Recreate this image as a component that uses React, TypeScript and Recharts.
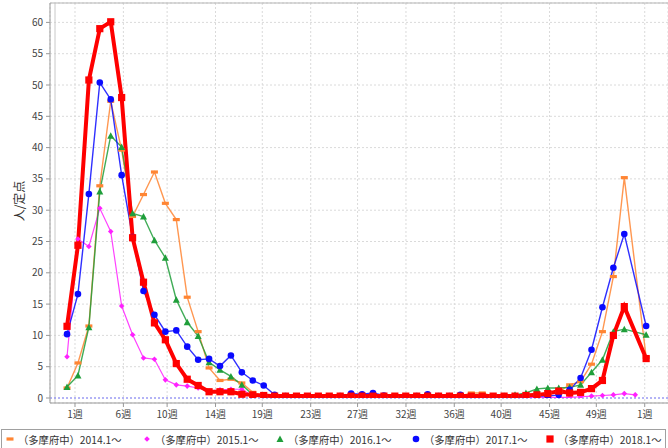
import React from 'react'
import { LineChart, Line, XAxis, YAxis, CartesianGrid, ReferenceLine } from 'recharts'

// week slots on the axis (53 only used by 2015, 54 = next year's week 1)
const weeks = [
  1, 2, 3, 4, 5, 6, 7, 8, 9, 10, 11, 12, 13, 14, 15, 16, 17, 18,
  19, 20, 21, 22, 23, 24, 25, 26, 27, 28, 29, 30, 31, 32, 33, 34, 35, 36,
  37, 38, 39, 40, 41, 42, 43, 44, 45, 46, 47, 48, 49, 50, 51, 52, 53, 54,
]

const s2014 = [
  1.6, 5.6, 11.5, 33.9, 47.4, 39.6, 29.0, 32.5, 36.1, 31.1, 28.5, 16.1, 10.6, 4.8, 2.8, 3.0, 2.4, 0.9,
  0.3, 0.2, 0.2, 0.1, 0.1, 0.1, 0.1, 0.1, 0.1, 0.2, 0.1, 0.1, 0.1, 0.1, 0.1, 0.1, 0.2, 0.3,
  0.3, 0.8, 0.8, 0.3, 0.2, 0.2, 0.3, 0.5, 0.8, 1.0, 2.1, 2.6, 5.4, 10.6, 19.4, 35.2, null, 6.5,
]
const s2015 = [
  6.6, 25.4, 24.2, 30.3, 26.6, 14.7, 10.1, 6.4, 6.2, 2.9, 2.1, 1.9, 1.6, 1.1, 1.3, 1.4, 1.4, 0.3,
  0.2, 0.1, 0.1, 0.1, 0.1, 0.1, 0.1, 0.1, 0.1, 0.1, 0.1, 0.1, 0.1, 0.1, 0.1, 0.1, 0.1, 0.1,
  0.1, 0.1, 0.1, 0.1, 0.1, 0.1, 0.1, 0.1, 0.1, 0.1, 0.1, 0.2, 0.3, 0.4, 0.5, 0.7, 0.5, null,
]
const s2016 = [
  1.75, 3.6, 11.3, 33.0, 41.9, 40.1, 29.5, 29.0, 25.2, 22.4, 15.7, 12.1, 9.9, 5.7, 4.5, 3.45, 2.1, 0.5,
  0.2, 0.2, 0.1, 0.1, 0.1, 0.1, 0.1, 0.1, 0.1, 0.1, 0.1, 0.1, 0.1, 0.1, 0.1, 0.1, 0.1, 0.1,
  0.1, 0.2, 0.2, 0.2, 0.3, 0.5, 0.8, 1.45, 1.6, 1.6, 1.7, 2.1, 4.1, 6.1, 10.6, 11.0, null, 10.1,
]
const s2017 = [
  10.2, 16.6, 32.6, 50.4, 47.7, 35.6, 25.7, 17.1, 13.3, 10.6, 10.8, 8.2, 6.1, 6.25, 5.1, 6.8, 4.1, 2.8,
  2.0, 0.5, 0.3, 0.2, 0.2, 0.2, 0.2, 0.3, 0.7, 0.6, 0.8, 0.4, 0.2, 0.2, 0.3, 0.6, 0.3, 0.3,
  0.5, 0.2, 0.2, 0.2, 0.2, 0.2, 0.2, 0.3, 0.3, 0.5, 1.3, 3.2, 7.7, 14.5, 20.8, 26.2, null, 11.5,
]
const s2018 = [
  11.45, 24.4, 50.8, 59.0, 60.1, 48.0, 25.6, 18.5, 12.0, 9.3, 5.5, 3.0, 2.0, 1.0, 1.0, 1.0, 0.6, 0.5,
  0.4, 0.3, 0.3, 0.3, 0.3, 0.3, 0.3, 0.3, 0.3, 0.3, 0.3, 0.3, 0.3, 0.3, 0.3, 0.3, 0.3, 0.3,
  0.3, 0.3, 0.3, 0.3, 0.3, 0.3, 0.4, 0.5, 0.7, 1.1, 0.8, 0.9, 1.5, 2.8, 10.0, 14.6, null, 6.3,
]

// month starts, in week units
const xTicks = [1.73, 6.16, 10.16, 14.59, 18.87, 23.3, 27.59, 32.02, 36.44, 40.73, 45.16, 49.44, 53.87]
const xTickLabels = ['1週', '6週', '10週', '14週', '19週', '23週', '27週', '32週', '36週', '40週', '45週', '49週', '1週']
const yTicks = [0, 5, 10, 15, 20, 25, 30, 35, 40, 45, 50, 55, 60]

const X_MIN = -0.1
const X_MAX = 56
const Y_MAX = 63.1

const FONT = '"Noto Sans CJK JP", "Noto Sans", sans-serif'

type Shape = 'hrect' | 'diamond' | 'triangle' | 'circle' | 'square'

const series: { key: string; name: string; color: string; width: number; shape: Shape }[] = [
  { key: 's2014', name: '（多摩府中）2014.1～', color: '#ff8533', width: 1.4, shape: 'hrect' },
  { key: 's2015', name: '（多摩府中）2015.1～', color: '#ff20ff', width: 1.2, shape: 'diamond' },
  { key: 's2016', name: '（多摩府中）2016.1～', color: '#1f9e3a', width: 1.4, shape: 'triangle' },
  { key: 's2017', name: '（多摩府中）2017.1～', color: '#0a0aff', width: 1.4, shape: 'circle' },
  { key: 's2018', name: '（多摩府中）2018.1～', color: '#ff0000', width: 4, shape: 'square' },
]

const data = weeks.map((w, i) => ({
  week: w,
  s2014: s2014[i],
  s2015: s2015[i],
  s2016: s2016[i],
  s2017: s2017[i],
  s2018: s2018[i],
}))

function drawShape(shape: Shape, color: string, cx: number, cy: number, key?: any) {
  switch (shape) {
    case 'hrect':
      return <rect key={key} x={cx - 3.5} y={cy - 1.6} width={7} height={3.2} fill={color} />
    case 'diamond':
      return <polygon key={key} points={`${cx},${cy - 2.8} ${cx + 2.8},${cy} ${cx},${cy + 2.8} ${cx - 2.8},${cy}`} fill={color} />
    case 'triangle':
      return <polygon key={key} points={`${cx},${cy - 3.5} ${cx + 3.5},${cy + 3} ${cx - 3.5},${cy + 3}`} fill={color} />
    case 'circle':
      return <circle key={key} cx={cx} cy={cy} r={3.3} fill={color} />
    default:
      return <rect key={key} x={cx - 3.6} y={cy - 3.6} width={7.2} height={7.2} fill={color} />
  }
}

const makeDot = (shape: Shape, color: string) => (p: any) => {
  if (p.cx == null || p.cy == null || p.value == null) return <g key={p.index} />
  return drawShape(shape, color, p.cx, p.cy, p.index)
}

const yLabel = () => (
  <text x={18} y={201} transform="rotate(-90 18 201)" textAnchor="middle" dominantBaseline="central"
    fontSize={12} fontFamily={FONT} fill="#333">
    人/定点
  </text>
)

const legendX = [10, 147, 280, 416, 550]

export default function App() {
  return (
    <div style={{ position: 'fixed', left: 0, top: 0, width: 668, height: 448, background: '#fff', overflow: 'hidden' }}>
      <LineChart width={668} height={428} data={data} margin={{ top: 3, right: 0, bottom: 0, left: 0 }}>
        <CartesianGrid stroke="#dadada" strokeDasharray="2 2" />
        <XAxis
          dataKey="week"
          type="number"
          domain={[X_MIN, X_MAX]}
          ticks={xTicks}
          tickFormatter={(v: number, i: number) => xTickLabels[i]}
          padding={{ left: 5, right: 0 }}
          height={25}
          tickSize={4}
          tickMargin={4}
          interval={0}
          allowDataOverflow
          stroke="#999"
          tick={{ fontSize: 10, fontFamily: FONT, fill: '#444' }}
        />
        <YAxis
          type="number"
          domain={[0, Y_MAX]}
          ticks={yTicks}
          width={50}
          padding={{ top: 0, bottom: 5 }}
          tickSize={4}
          tickMargin={3}
          allowDataOverflow
          stroke="#999"
          tick={{ fontSize: 10, fontFamily: FONT, fill: '#444' }}
          label={yLabel}
        />
        <ReferenceLine y={Y_MAX} stroke="#b5b5b5" strokeWidth={1} />
        <ReferenceLine x={X_MIN} stroke="#c8c8c8" strokeWidth={1} />
        <ReferenceLine y={0} stroke="#7a7aff" strokeDasharray="2 2" strokeWidth={1} />
        {series.map(s => (
          <Line
            key={s.key}
            dataKey={s.key}
            name={s.name}
            type="linear"
            stroke={s.color}
            strokeWidth={s.width}
            strokeOpacity={s.key === 's2018' ? 1 : 0.85}
            dot={makeDot(s.shape, s.color)}
            activeDot={false}
            connectNulls
            isAnimationActive={false}
          />
        ))}
      </LineChart>
      <div style={{ position: 'absolute', left: 1, top: 429, width: 665, height: 24, border: '1px solid #a0a0a0', boxSizing: 'border-box' }} />
      {series.map((s, i) => (
        <div key={s.key} style={{ position: 'absolute', left: legendX[i] - 6, top: 430, height: 18, display: 'flex', alignItems: 'center', whiteSpace: 'nowrap' }}>
          <svg width={12} height={12} style={{ display: 'block' }}>
            {drawShape(s.shape, s.color, 6, 6)}
          </svg>
          <span style={{ marginLeft: 2, fontSize: 10.3, fontFamily: FONT, color: '#333' }}>{s.name}</span>
        </div>
      ))}
    </div>
  )
}
